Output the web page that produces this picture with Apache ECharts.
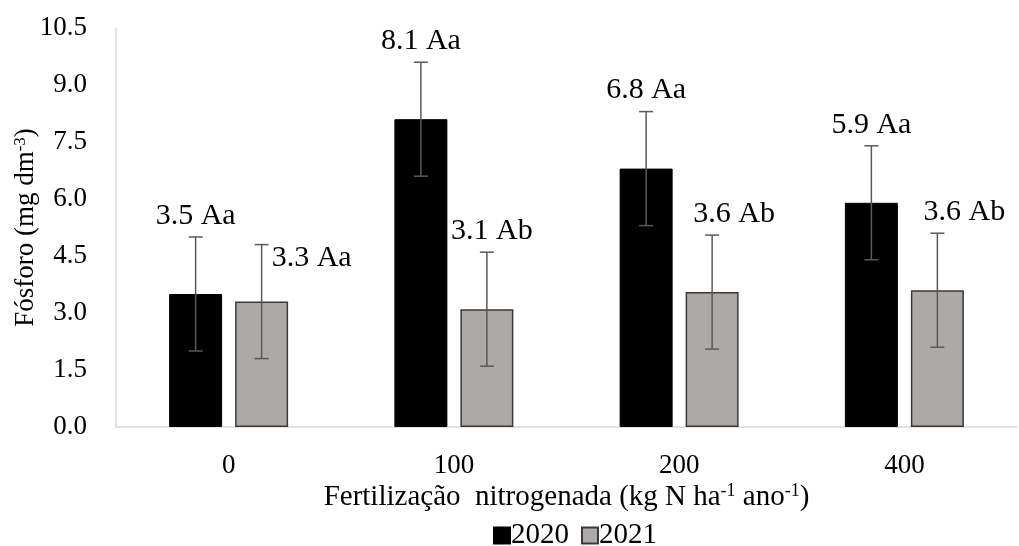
<!DOCTYPE html>
<html><head><meta charset="utf-8">
<script src="https://cdn.jsdelivr.net/npm/echarts@6/dist/echarts.min.js"></script>
<style>html,body{margin:0;padding:0;background:#fff}#c{width:1019px;height:546px}</style>
</head><body><div id="c"></div>
<script>
const categories = ['0', '100', '200', '400'];
const values2020 = [3.5, 8.1, 6.8, 5.9];
const values2021 = [3.3, 3.1, 3.55, 3.6];
const err2020 = [1.5, 1.5, 1.5, 1.5];
const err2021 = [1.5, 1.5, 1.5, 1.5];
const labels2020 = ['3.5 Aa', '8.1 Aa', '6.8 Aa', '5.9 Aa'];
const labels2021 = ['3.3 Aa', '3.1 Ab', '3.6 Ab', '3.6 Ab'];
const yTicks = ['0.0','1.5','3.0','4.5','6.0','7.5','9.0','10.5'];

const FONT = '"Liberation Serif", "Times New Roman", serif';
const BAR_W = 53, BAR_GAP = 13;
const OFF = (BAR_W + BAR_GAP) / 2;
// label nudges (style only)
const nudge2021 = [[50, 35], [5, 0], [22, 0], [27, 0]];

function errSeries(name, vals, errs, dx) {
  return {
    type: 'custom', name: name + '_err', silent: true, z: 5,
    data: vals.map((v, i) => [i, v - errs[i], v + errs[i]]),
    renderItem: function (params, api) {
      const lo = api.coord([api.value(0), api.value(1)]);
      const hi = api.coord([api.value(0), api.value(2)]);
      const x = lo[0] + dx, cap = 7;
      const st = { stroke: '#595959', lineWidth: 1.5 };
      return { type: 'group', children: [
        { type: 'line', shape: { x1: x, y1: lo[1], x2: x, y2: hi[1] }, style: st },
        { type: 'line', shape: { x1: x - cap, y1: lo[1], x2: x + cap, y2: lo[1] }, style: st },
        { type: 'line', shape: { x1: x - cap, y1: hi[1], x2: x + cap, y2: hi[1] }, style: st }
      ]};
    }
  };
}

const supRich = {
  a: { fontFamily: FONT, fontSize: 29, color: '#000', lineHeight: 30 },
  s: { fontFamily: FONT, fontSize: 18, color: '#000', lineHeight: 18, verticalAlign: 'top' }
};
const supRichY = {
  a: { fontFamily: FONT, fontSize: 27, color: '#000', lineHeight: 28 },
  s: { fontFamily: FONT, fontSize: 17, color: '#000', lineHeight: 17, verticalAlign: 'top' }
};

const chart = echarts.init(document.getElementById('c'));
chart.setOption({
  animation: false,
  textStyle: { fontFamily: FONT },
  grid: { left: 116, right: 2, top: 28, bottom: 119, outerBoundsMode: 'none', containLabel: false },
  legend: {
    left: 488, top: 516, itemWidth: 16, itemHeight: 16, itemGap: 12,
    textStyle: { fontFamily: FONT, fontSize: 29, color: '#000', padding: [0, 0, 0, -4] },
    data: [
      { name: '2020', icon: 'rect' },
      { name: '2021', icon: 'rect' }
    ]
  },
  xAxis: {
    type: 'category', data: categories,
    axisLine: { lineStyle: { color: '#D9D9D9', width: 1.5 } },
    axisTick: { show: false },
    axisLabel: { fontFamily: FONT, fontSize: 27, color: '#000', margin: 25 },
    name: '{a|Fertilização  nitrogenada (kg N ha}{s|-1}{a| ano}{s|-1}{a|)}',
    nameLocation: 'middle', nameGap: 55, nameMoveOverlap: false,
    nameTextStyle: { rich: supRich }
  },
  yAxis: {
    type: 'value', min: 0, max: 10.5, interval: 1.5,
    axisLine: { show: true, lineStyle: { color: '#D9D9D9', width: 1.5 } },
    axisTick: { show: false },
    splitLine: { show: false },
    axisLabel: { fontFamily: FONT, fontSize: 27, color: '#000', margin: 29,
      formatter: (v) => yTicks[Math.round(v / 1.5)] },
    name: '{a|Fósforo (mg dm}{s|-3}{a|)}',
    nameLocation: 'middle', nameGap: 76, nameMoveOverlap: false,
    nameTextStyle: { rich: supRichY }
  },
  series: [
    {
      name: '2020', type: 'bar', barWidth: BAR_W, barGap: (BAR_GAP / BAR_W * 100) + '%',
      itemStyle: { color: '#000', borderColor: '#000', borderWidth: 1 },
      data: values2020.map((v, i) => ({ value: v })),
      label: { show: true, position: 'top', distance: 63,
        fontFamily: FONT, fontSize: 30, color: '#000',
        formatter: (p) => labels2020[p.dataIndex] }
    },
    {
      name: '2021', type: 'bar', barWidth: BAR_W,
      itemStyle: { color: '#ADA9A9', borderColor: '#3a3a3a', borderWidth: 1.5 },
      data: values2021.map((v, i) => ({ value: v, label: { offset: nudge2021[i] } })),
      label: { show: true, position: 'top', distance: 63,
        fontFamily: FONT, fontSize: 30, color: '#000',
        formatter: (p) => labels2021[p.dataIndex] }
    },
    errSeries('2020', values2020, err2020, -OFF),
    errSeries('2021', values2021, err2021, OFF)
  ]
});
</script></body></html>
